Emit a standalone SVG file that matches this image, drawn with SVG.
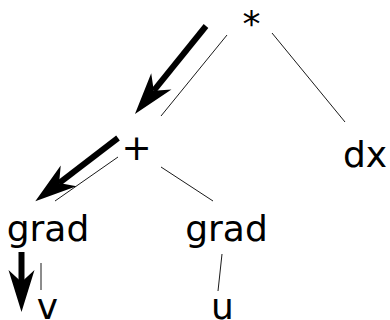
<svg xmlns="http://www.w3.org/2000/svg" width="390" height="320" viewBox="0 0 390 320">
<style>
text{font-family:"DejaVu Sans","Liberation Sans",sans-serif;font-size:36px;fill:#000;text-anchor:middle}
.edge{stroke:#000;stroke-width:0.9;fill:none}
.flow{stroke:#000;stroke-width:6;fill:none;marker-end:url(#head)}
</style>
<defs>
<marker id="head" viewBox="-44 -15 46 30" markerWidth="46" markerHeight="30" refX="-30" refY="0" orient="auto" markerUnits="userSpaceOnUse">
<path d="M0,0 L-42,-13 L-30,0 L-42,13 Z" fill="#000"/>
</marker>
</defs>
<rect width="390" height="320" fill="#fff"/>
<g id="connectors">
<line class="edge" x1="227" y1="35" x2="161" y2="116"/>
<line class="edge" x1="272" y1="33" x2="345" y2="122"/>
<line class="edge" x1="118" y1="157" x2="55" y2="201"/>
<line class="edge" x1="161" y1="167" x2="213" y2="201"/>
<line class="edge" x1="41" y1="263" x2="41" y2="290"/>
<line class="edge" x1="222" y1="254" x2="218" y2="291"/>
<line class="flow" x1="206" y1="26" x2="153.8" y2="90.7"/>
<line class="flow" x1="118" y1="138" x2="59.1" y2="183.1"/>
<line class="flow" x1="21.5" y1="252" x2="21.5" y2="282"/>
</g>
<g id="n-mul"><text x="251.5" y="36">*</text></g>
<g id="n-plus"><text x="136.5" y="160">+</text></g>
<g id="n-dx"><text x="365" y="167">dx</text></g>
<g id="n-grad1"><text x="48" y="241">grad</text></g>
<g id="n-grad2"><text x="226.5" y="241">grad</text></g>
<g id="n-v"><text x="47.5" y="319">v</text></g>
<g id="n-u"><text x="222.5" y="319">u</text></g>
</svg>
